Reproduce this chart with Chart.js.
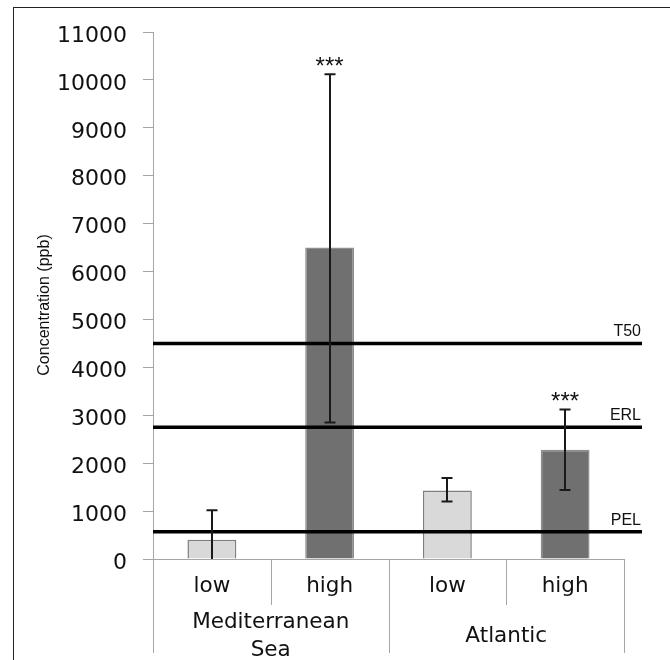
<!DOCTYPE html>
<html>
<head>
<meta charset="utf-8">
<script src="https://cdn.jsdelivr.net/npm/chart.js@4.4.1/dist/chart.umd.min.js"></script>
<style>
  html, body { margin: 0; padding: 0; background: #fff; overflow: hidden; }
  #wrap { position: relative; width: 670px; height: 660px; }
  #frame { position: absolute; left: 13px; top: 7px; width: 700px; height: 700px;
           border-left: 1px solid #222; border-top: 1px solid #222; pointer-events: none; }
  canvas { position: absolute; left: 0; top: 0; }
</style>
</head>
<body>
<div id="wrap">
  <canvas id="c" width="670" height="660"></canvas>
  <div id="frame"></div>
</div>
<script>
// ---- data ----
const subCategories = ['low', 'high', 'low', 'high'];
const groupLabels = [['Mediterranean', 'Sea'], ['Atlantic']];
const groupSizes = [2, 2];
const values = [400, 6500, 1430, 2280];
const errLow = [0, 2850, 1200, 1440];
const errHigh = [1020, 10120, 1690, 3120];
const significance = ['', '***', '', '***'];
const refValues = [4500, 2750, 570];
const refLabels = ['T50', 'ERL', 'PEL'];
const yMin = 0, yMax = 11000, yStep = 1000;
const yTitle = 'Concentration (ppb)';

const barFill = ['#d9d9d9', '#707070', '#d9d9d9', '#707070'];
const barEdge = ['#7f7f7f', '#8e8e8e', '#7f7f7f', '#8e8e8e'];
const axisColor = '#a6a6a6';

const overlay = {
  id: 'overlay',
  afterDatasetsDraw(chart) {
    const { ctx, chartArea: a, scales: { x, y } } = chart;
    ctx.save();
    // category axis line and divider boxes
    ctx.strokeStyle = axisColor;
    ctx.lineWidth = 1;
    const base = y.getPixelForValue(0);
    ctx.beginPath();
    ctx.moveTo(a.left, base + 0.5); ctx.lineTo(a.right, base + 0.5);
    ctx.stroke();
    const n = subCategories.length;
    const boundary = (k) => {
      if (k <= 0) return a.left;
      if (k >= n) return a.right;
      return (x.getPixelForValue(k - 1) + x.getPixelForValue(k)) / 2;
    };
    const groupEdges = [0];
    groupSizes.forEach(s => groupEdges.push(groupEdges[groupEdges.length - 1] + s));
    for (let k = 0; k <= n; k++) {
      const bx = Math.round(boundary(k)) + 0.5;
      const full = groupEdges.includes(k);
      ctx.beginPath();
      ctx.moveTo(bx, base);
      ctx.lineTo(bx, full ? 653 : 605);
      ctx.stroke();
    }
    // sub category labels
    ctx.fillStyle = '#111';
    ctx.font = '21.5px "DejaVu Sans"';
    ctx.textAlign = 'center';
    ctx.textBaseline = 'alphabetic';
    subCategories.forEach((s, i) => ctx.fillText(s, x.getPixelForValue(i), 591.5));
    // group labels
    groupLabels.forEach((lines, g) => {
      const cx = (boundary(groupEdges[g]) + boundary(groupEdges[g + 1])) / 2;
      const lh = 28;
      const start = 642 - (lines.length - 1) * lh / 2;
      lines.forEach((t, j) => ctx.fillText(t, cx, start + j * lh));
    });
    // reference lines
    ctx.strokeStyle = '#000';
    ctx.lineWidth = 3.5;
    ctx.font = '16px "Liberation Sans"';
    ctx.textAlign = 'right';
    refValues.forEach((v, i) => {
      const py = y.getPixelForValue(v);
      ctx.beginPath();
      ctx.moveTo(a.left, py); ctx.lineTo(a.right + 18, py);
      ctx.stroke();
      ctx.fillStyle = '#111';
      ctx.fillText(refLabels[i], a.right + 17, py - 7);
    });
    // error bars
    ctx.strokeStyle = '#1a1a1a';
    ctx.lineWidth = 2;
    values.forEach((v, i) => {
      const px = Math.round(x.getPixelForValue(i));
      const t = y.getPixelForValue(errHigh[i]);
      const b = y.getPixelForValue(errLow[i]);
      ctx.beginPath();
      ctx.moveTo(px, t); ctx.lineTo(px, b);
      ctx.moveTo(px - 5.5, t); ctx.lineTo(px + 5.5, t);
      if (errLow[i] > yMin) { ctx.moveTo(px - 5.5, b); ctx.lineTo(px + 5.5, b); }
      ctx.stroke();
    });
    // significance marks
    ctx.fillStyle = '#111';
    ctx.font = '24px "Liberation Sans"';
    ctx.textAlign = 'center';
    significance.forEach((s, i) => {
      if (!s) return;
      ctx.fillText(s, x.getPixelForValue(i), y.getPixelForValue(errHigh[i]) - 0.5);
    });
    // y axis title
    ctx.save();
    ctx.translate(45, 305);
    ctx.rotate(-Math.PI / 2);
    ctx.font = '16px "Liberation Sans"';
    ctx.textAlign = 'center';
    ctx.textBaseline = 'middle';
    ctx.fillStyle = '#111';
    ctx.fillText(yTitle, 0, 0);
    ctx.restore();
    ctx.restore();
  }
};

new Chart(document.getElementById('c'), {
  type: 'bar',
  data: {
    labels: subCategories,
    datasets: [{
      data: values,
      backgroundColor: barFill,
      borderColor: barEdge,
      borderWidth: 1.5,
      borderSkipped: 'bottom',
      categoryPercentage: 1,
      barPercentage: 0.415
    }]
  },
  options: {
    responsive: false,
    animation: false,
    devicePixelRatio: 1,
    layout: { padding: { top: 32, bottom: 101, left: 0, right: 46 } },
    plugins: { legend: { display: false }, tooltip: { enabled: false } },
    scales: {
      x: { display: false },
      y: {
        min: yMin, max: yMax,
        afterFit(s) { s.width = 153; },
        ticks: {
          stepSize: yStep,
          padding: 16,
          labelOffset: 4,
          color: '#111',
          font: { family: 'DejaVu Sans', size: 22 },
          callback: (v) => String(v)
        },
        grid: { drawOnChartArea: false, drawTicks: true, tickLength: 10, color: axisColor },
        border: { color: axisColor, width: 1 }
      }
    }
  },
  plugins: [overlay]
});
</script>
</body>
</html>
